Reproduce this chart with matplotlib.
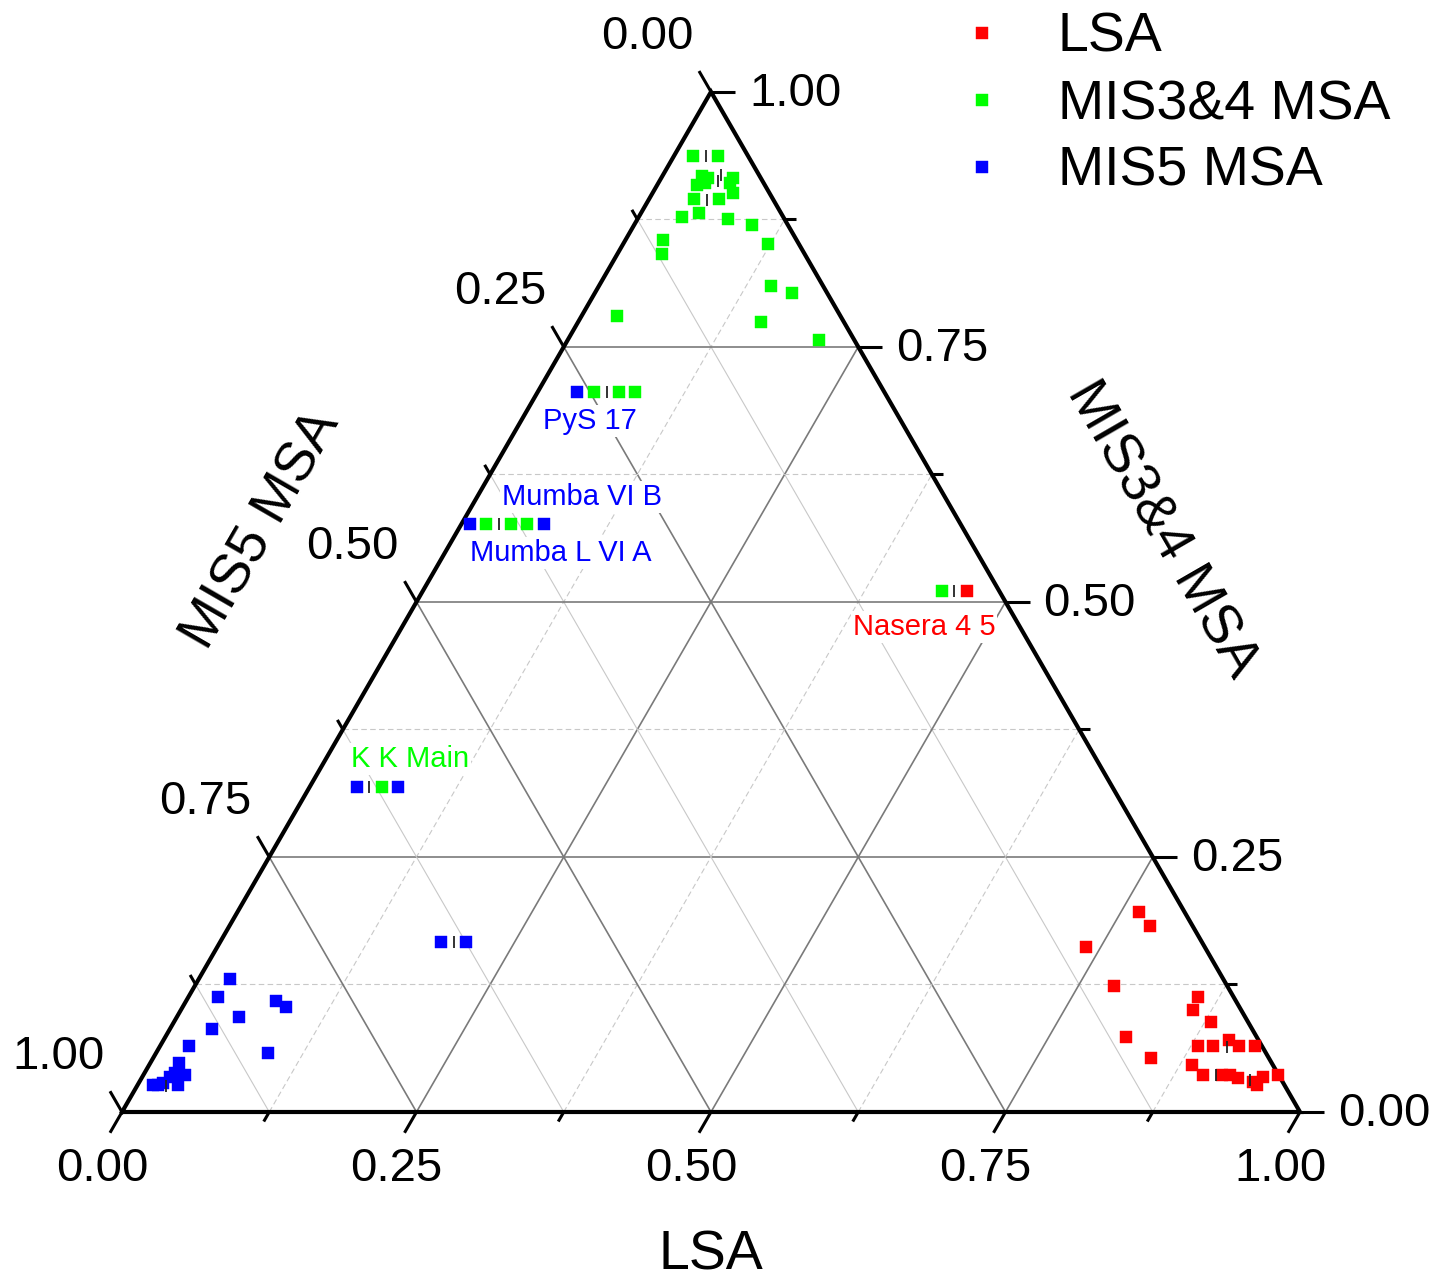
import numpy as np
import matplotlib
matplotlib.use("Agg")
import matplotlib.pyplot as plt

plt.rcParams['font.family'] = ['Liberation Sans', 'DejaVu Sans']

# ---------------- data (fractions: LSA, MIS3&4 MSA; MIS5 = 1 - LSA - MIS3&4) ----------------
lsa_LSA = [0.7651, 0.7814, 0.7373, 0.7806, 0.8572, 0.8594, 0.8799, 0.8154, 0.8467,
           0.8808, 0.8940, 0.9044, 0.9158, 0.9294, 0.8851, 0.8993, 0.9154, 0.9225,
           0.9311, 0.9455, 0.9500, 0.9516, 0.9635, 0.4616]
lsa_MIS34 = [0.1964, 0.1826, 0.1621, 0.1235, 0.1130, 0.1000, 0.0885, 0.0738, 0.0532,
             0.0647, 0.0647, 0.0706, 0.0647, 0.0647, 0.0461, 0.0363, 0.0363, 0.0363,
             0.0330, 0.0297, 0.0265, 0.0346, 0.0363, 0.5111]

m34_LSA = [0.0157, 0.0369, 0.0336, 0.0400, 0.0335, 0.0396, 0.0604, 0.0609, 0.0677,
           0.0382, 0.0594, 0.0365, 0.0493, 0.0771, 0.0997, 0.0316, 0.0377, 0.1228,
           0.1460, 0.1672, 0.0301, 0.1551, 0.2135,
           0.0479, 0.0691, 0.0827, 0.0209, 0.0421, 0.0554, 0.4403, 0.0613]
m34_MIS34 = [0.9375, 0.9375, 0.9170, 0.9154, 0.9088, 0.9105, 0.9160, 0.9105, 0.9013,
             0.8948, 0.8948, 0.8772, 0.8811, 0.8752, 0.8696, 0.8549, 0.8409, 0.8507,
             0.8098, 0.8026, 0.7807, 0.7742, 0.7569,
             0.7056, 0.7056, 0.7056, 0.5762, 0.5762, 0.5762, 0.5111, 0.3183]

m5_LSA = [0.0337, 0.0073, 0.0701, 0.0400, 0.0754, 0.1873, 0.2088,
          0.0265, 0.0250, 0.0759, 0.0874, 0.0526, 0.0354, 0.0248, 0.0952,
          0.0248, 0.0260, 0.0354, 0.0234, 0.0133, 0.0210, 0.0345, 0.0176]
m5_MIS34 = [0.7056, 0.5762, 0.5762, 0.3183, 0.3183, 0.1664, 0.1664,
            0.1304, 0.1125, 0.1091, 0.1032, 0.0934, 0.0814, 0.0647, 0.0581,
            0.0477, 0.0379, 0.0363, 0.0346, 0.0265, 0.0281, 0.0265, 0.0265]

# small black "|" marks
mark_LSA = [0.0268, 0.0502, 0.0489, 0.0493, 0.0592, 0.0322, 0.4508, 0.0507, 0.1986,
            0.0246, 0.9058, 0.9106, 0.9419]
mark_MIS34 = [0.9375, 0.9121, 0.9186, 0.8941, 0.7056, 0.5762, 0.5111, 0.3183, 0.1664,
              0.0255, 0.0640, 0.0363, 0.0314]

# site labels: text, LSA, MIS3&4, colour
site_text = ["PyS 17", "Mumba VI B", "Mumba L VI A", "Nasera 4 5", "K K Main"]
site_LSA = [0.0585, 0.0890, 0.0987, 0.4431, 0.0715]
site_MIS34 = [0.6775, 0.6029, 0.5480, 0.4755, 0.3461]
site_color = ["#0000ff", "#0000ff", "#0000ff", "#ff0000", "#00ff00"]

series_names = ["LSA", "MIS3&4 MSA", "MIS5 MSA"]
series_colors = ["#ff0000", "#00ff00", "#0000ff"]
tick_values = [0.0, 0.25, 0.5, 0.75, 1.0]
tick_labels = ["0.00", "0.25", "0.50", "0.75", "1.00"]

# ---------------- layout ----------------
W, H = 1452, 1281
X0, BASE_Y, SIDE = 122, 1112, 1178
S3 = np.sqrt(3) / 2

fig = plt.figure(figsize=(W / 100, H / 100), dpi=100)
ax = fig.add_axes([0, 0, 1, 1])
ax.set_xlim(-X0 / SIDE, (W - X0) / SIDE)
ax.set_ylim(-(H - BASE_Y) / SIDE, BASE_Y / SIDE)
ax.axis('off')


def t2xy(a, b):
    a = np.asarray(a, float)
    b = np.asarray(b, float)
    return a + b / 2, b * S3


px = 1.0 / SIDE  # one pixel in data units

# ---------------- grid ----------------
levels = np.arange(1, 8) * 0.125
for v in levels:
    major = abs((v / 0.25) - round(v / 0.25)) < 1e-9
    if major:
        sty = dict(color="#7a7a7a", lw=1.2, ls="-")
        sty_c = sty
    else:
        sty = dict(color="#c8c8c8", lw=0.8, ls=(0, (5, 3)))
        sty_c = dict(color="#c8c8c8", lw=0.8, ls="-")
    # constant MIS3&4 (horizontal)
    x, y = t2xy([0, 1 - v], [v, v])
    ax.plot(x, y, zorder=1, **sty)
    # constant LSA
    x, y = t2xy([v, v], [0, 1 - v])
    ax.plot(x, y, zorder=1, **sty)
    # constant MIS5
    x, y = t2xy([1 - v, 0], [0, 1 - v])
    ax.plot(x, y, zorder=1, **sty_c)

# ---------------- triangle frame ----------------
x, y = t2xy([0, 1, 0, 0], [0, 0, 1, 0])
ax.plot(x, y, color="black", lw=3, solid_joinstyle="miter", zorder=5)

# ---------------- ticks ----------------
dir_bottom = np.array([-0.5, -S3])
dir_right = np.array([1.0, 0.0])
dir_left = np.array([-0.5, S3])
for v in np.arange(0, 9) * 0.125:
    major = abs((v / 0.25) - round(v / 0.25)) < 1e-9
    L = (24 if major else 11) * px
    # bottom axis (LSA)
    p = np.array(t2xy(v, 0))
    ax.plot([p[0], p[0] + L * dir_bottom[0]], [p[1], p[1] + L * dir_bottom[1]],
            color="black", lw=2.2, zorder=5, solid_capstyle="butt")
    # right axis (MIS3&4)
    p = np.array(t2xy(1 - v, v))
    ax.plot([p[0], p[0] + L * dir_right[0]], [p[1], p[1] + L * dir_right[1]],
            color="black", lw=2.2, zorder=5, solid_capstyle="butt")
    # left axis (MIS5)
    p = np.array(t2xy(0, 1 - v))
    ax.plot([p[0], p[0] + L * dir_left[0]], [p[1], p[1] + L * dir_left[1]],
            color="black", lw=2.2, zorder=5, solid_capstyle="butt")

TFS = 34
for v, lab in zip(tick_values, tick_labels):
    xb, yb = t2xy(v, 0)
    ax.text(xb - 20 * px, yb - 57 * px, lab, fontsize=TFS, ha="center", va="center")
    xr, yr = t2xy(1 - v, v)
    ax.text(xr + 38 * px, yr - 2 * px, lab, fontsize=TFS, ha="left", va="center")
    xl, yl = t2xy(0, 1 - v)
    ax.text(xl - 64 * px, yl + 55 * px, lab, fontsize=TFS, ha="center", va="center")

# ---------------- axis titles ----------------
AFS = 40
xb, yb = t2xy(0.5, 0)
ax.text(xb, yb - 143 * px, "LSA", fontsize=AFS, ha="center", va="center")
ax.text((262 - X0) * px, (BASE_Y - 530) * px, "MIS5 MSA", fontsize=AFS,
        ha="center", va="center", rotation=60, rotation_mode="anchor")
ax.text((1162 - X0) * px, (BASE_Y - 530) * px, "MIS3&4 MSA", fontsize=AFS,
        ha="center", va="center", rotation=-60, rotation_mode="anchor")

# ---------------- data ----------------
handles = []
for name, col, A, B in zip(series_names, series_colors,
                           [lsa_LSA, m34_LSA, m5_LSA], [lsa_MIS34, m34_MIS34, m5_MIS34]):
    x, y = t2xy(A, B)
    h, = ax.plot(x, y, ls="none", marker="s", ms=8.8, mfc=col, mec=col, mew=0.3,
                 label=name, zorder=6, clip_on=False)
    handles.append(h)

x, y = t2xy(mark_LSA, mark_MIS34)
ax.plot(x, y, ls="none", marker="|", ms=9, mew=1.3, color="#222222", zorder=7)

# ---------------- site labels ----------------
for t, a, b, c in zip(site_text, site_LSA, site_MIS34, site_color):
    x, y = t2xy(a, b)
    ax.text(x, y, t, fontsize=21, color=c, ha="center", va="center", zorder=4,
            bbox=dict(facecolor="white", edgecolor="none", pad=1.5))

# ---------------- legend ----------------
fig.legend(handles, series_names, loc="upper left",
           bbox_to_anchor=(960 / W, 1 - 12 / H), frameon=False, fontsize=AFS,
           borderpad=0, borderaxespad=0, handlelength=0.8, handletextpad=0.96,
           labelspacing=0.27, markerscale=1.0)

fig.savefig("out.png", dpi=100)
